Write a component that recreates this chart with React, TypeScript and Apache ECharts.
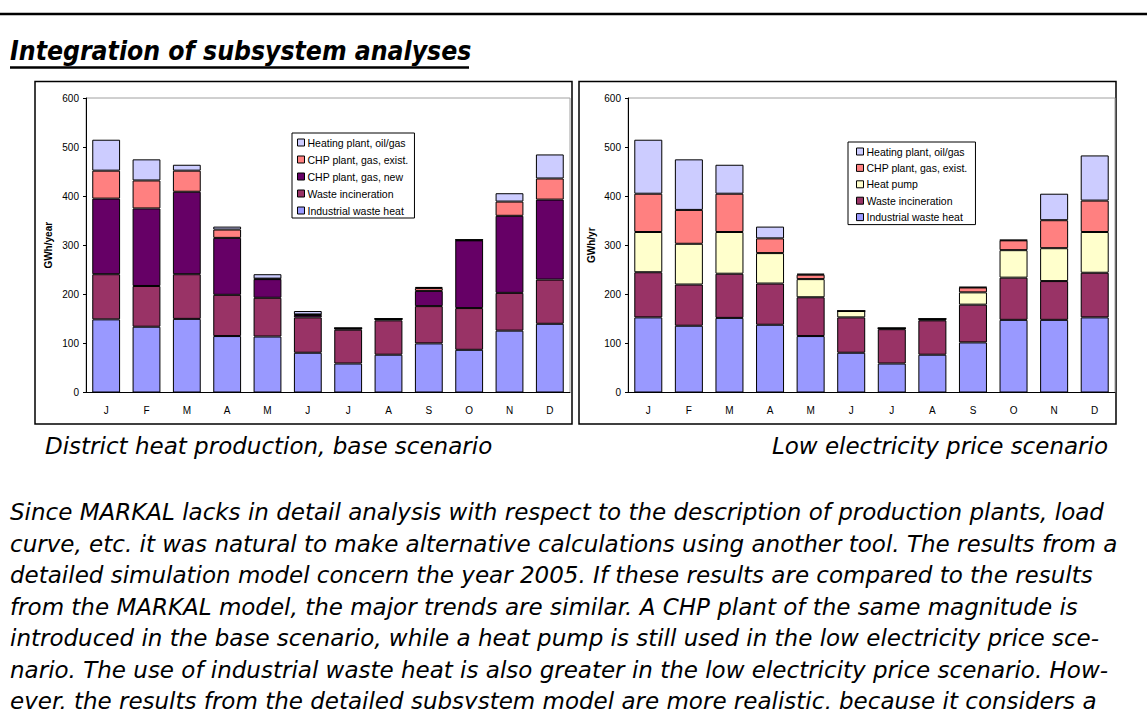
import React, { useEffect, useRef } from "react";
import * as echarts from "echarts";

const months = ["J", "F", "M", "A", "M", "J", "J", "A", "S", "O", "N", "D"];
const yTicks = { min: 0, max: 600, interval: 100 };

// Base scenario (GWh)
const industrialBase = [149, 134, 150, 115, 114, 81, 59, 77, 100, 87, 126, 140];
const wasteBase = [92, 83, 91, 84, 79, 72, 69, 70, 76, 85, 77, 90];
const chpNewBase = [154, 158, 168, 116, 38, 5, 3, 3, 31, 138, 157, 163];
const chpExistBase = [57, 57, 43, 17, 1, 1, 0, 0, 6, 1, 29, 43];
const heatingBase = [63, 43, 12, 6, 9, 7, 0, 0, 2, 0, 17, 49];

// Low electricity price scenario (GWh)
const industrialLow = [153, 136, 152, 138, 115, 81, 59, 77, 102, 148, 148, 153];
const wasteLow = [92, 84, 90, 84, 79, 72, 70, 70, 77, 86, 79, 91];
const heatPumpLow = [82, 83, 85, 62, 37, 13, 2, 2, 25, 56, 67, 83];
const chpExistLow = [78, 69, 78, 30, 9, 0, 0, 1, 10, 20, 57, 64];
const heatingLow = [110, 103, 59, 24, 2, 0, 0, 0, 1, 1, 54, 92];

const names = {
  ind: "Industrial waste heat",
  waste: "Waste incineration",
  chpNew: "CHP plant, gas, new",
  hp: "Heat pump",
  chpExist: "CHP plant, gas, exist.",
  heat: "Heating plant, oil/gas",
};
const colors = {
  ind: "#9999FF",
  waste: "#993366",
  chpNew: "#660066",
  hp: "#FFFFCC",
  chpExist: "#FF8080",
  heat: "#CCCCFF",
};

const title = "Integration of subsystem analyses";
const captionLeft = "District heat production, base scenario";
const captionRight = "Low electricity price scenario";
const paragraph = [
  "Since MARKAL lacks in detail analysis with respect to the description of production plants, load",
  "curve, etc. it was natural to make alternative calculations using another tool. The results from a",
  "detailed simulation model concern the year 2005. If these results are compared to the results",
  "from the MARKAL model, the major trends are similar. A CHP plant of the same magnitude is",
  "introduced in the base scenario, while a heat pump is still used in the low electricity price sce-",
  "nario. The use of industrial waste heat is also greater in the low electricity price scenario. How-",
  "ever, the results from the detailed subsystem model are more realistic, because it considers a",
];

const AX_FONT = "'Liberation Sans', Arial, sans-serif";
const DOC_FONT = "'DejaVu Sans', Verdana, sans-serif";
const TITLE_FONT = "'DejaVu Sans Condensed', 'DejaVu Sans', sans-serif";

function bar(name: string, color: string, data: number[], idx: number, stack: string) {
  return {
    type: "bar",
    name,
    stack,
    xAxisIndex: idx,
    yAxisIndex: idx,
    barWidth: "69%",
    data,
    itemStyle: { color, borderColor: "#000", borderWidth: 1 },
    emphasis: { disabled: true },
  };
}

function xAxis(idx: number) {
  return {
    type: "category",
    gridIndex: idx,
    data: months,
    axisLine: { lineStyle: { color: "#000", width: 1 } },
    axisTick: { inside: true, length: 3, lineStyle: { color: "#000" } },
    axisLabel: { color: "#000", fontSize: 10, fontFamily: AX_FONT, margin: 13, interval: 0 },
    splitLine: { show: false },
  };
}

function yAxis(idx: number, name: string, gap: number) {
  return {
    type: "value",
    gridIndex: idx,
    min: yTicks.min,
    max: yTicks.max,
    interval: yTicks.interval,
    name,
    nameLocation: "middle",
    nameGap: gap,
    nameRotate: 90,
    nameTextStyle: { color: "#000", fontSize: 10, fontWeight: "bold", fontFamily: AX_FONT },
    axisLine: { show: true, lineStyle: { color: "#000", width: 1 } },
    axisTick: { show: true, length: 3, lineStyle: { color: "#000" } },
    axisLabel: { color: "#000", fontSize: 10, fontFamily: AX_FONT, margin: 7 },
    splitLine: { show: false },
  };
}

function legend(left: number, top: number, data: string[], padding: number[], gap: number) {
  return {
    orient: "vertical",
    left,
    top,
    data,
    icon: "rect",
    itemWidth: 7,
    itemHeight: 7,
    itemGap: gap,
    padding,
    borderColor: "#000",
    borderWidth: 1,
    backgroundColor: "#fff",
    itemStyle: { borderColor: "#000", borderWidth: 1 },
    textStyle: { color: "#000", fontSize: 10.5, fontFamily: AX_FONT, lineHeight: 11, padding: [0, 0, 0, -2] },
    selectedMode: false,
  };
}

export default function App() {
  const ref = useRef<HTMLDivElement>(null);
  useEffect(() => {
    if (!ref.current) return;
    const chart = echarts.init(ref.current, null, { renderer: "svg" });
    const graphic: any[] = [
      { type: "line", shape: { x1: 0, y1: 14, x2: 1147, y2: 14 }, style: { stroke: "#000", lineWidth: 2.5 } },
      {
        type: "text",
        x: 10,
        y: 51,
        style: {
          text: title,
          fontFamily: TITLE_FONT,
          fontSize: 26.3,
          fontWeight: "bold",
          fontStyle: "italic",
          fill: "#000",
          textVerticalAlign: "middle",
        },
      },
      { type: "line", shape: { x1: 10, y1: 67.5, x2: 469, y2: 67.5 }, style: { stroke: "#000", lineWidth: 2.5 } },
      { type: "rect", shape: { x: 35, y: 81.5, width: 537, height: 342.5 }, style: { fill: "none", stroke: "#000", lineWidth: 1.5 }, z: -1 },
      { type: "rect", shape: { x: 579, y: 81.5, width: 537, height: 342.5 }, style: { fill: "none", stroke: "#000", lineWidth: 1.5 }, z: -1 },
      {
        type: "text",
        x: 45,
        y: 446,
        style: { text: captionLeft, fontFamily: DOC_FONT, fontSize: 23, fontStyle: "italic", fill: "#000", textVerticalAlign: "middle" },
      },
      {
        type: "text",
        x: 1108,
        y: 446,
        style: { text: captionRight, fontFamily: DOC_FONT, fontSize: 23, fontStyle: "italic", fill: "#000", textAlign: "right", textVerticalAlign: "middle" },
      },
    ];
    paragraph.forEach((line, i) => {
      graphic.push({
        type: "text",
        x: 10,
        y: 512 + i * 31.5,
        style: { text: line, fontFamily: DOC_FONT, fontSize: 23, fontStyle: "italic", fill: "#000", textVerticalAlign: "middle" },
      });
    });

    chart.setOption({
      animation: false,
      backgroundColor: "#fff",
      grid: [
        { left: 86, top: 98, width: 484, height: 294.5, show: true, borderColor: "#a0a0a0", borderWidth: 1, backgroundColor: "transparent" },
        { left: 628, top: 98, width: 487, height: 294.5, show: true, borderColor: "#a0a0a0", borderWidth: 1, backgroundColor: "transparent" },
      ],
      xAxis: [xAxis(0), xAxis(1)],
      yAxis: [yAxis(0, "GWh/year", 33), yAxis(1, "GWh/yr", 32)],
      legend: [
        legend(292, 133, [names.heat, names.chpExist, names.chpNew, names.waste, names.ind], [4, 6, 2, 5], 6),
        legend(848, 142, [names.heat, names.chpExist, names.hp, names.waste, names.ind], [4, 8, 2, 8], 5.4),
      ],
      series: [
        bar(names.ind, colors.ind, industrialBase, 0, "base"),
        bar(names.waste, colors.waste, wasteBase, 0, "base"),
        bar(names.chpNew, colors.chpNew, chpNewBase, 0, "base"),
        bar(names.chpExist, colors.chpExist, chpExistBase, 0, "base"),
        bar(names.heat, colors.heat, heatingBase, 0, "base"),
        bar(names.ind, colors.ind, industrialLow, 1, "low"),
        bar(names.waste, colors.waste, wasteLow, 1, "low"),
        bar(names.hp, colors.hp, heatPumpLow, 1, "low"),
        bar(names.chpExist, colors.chpExist, chpExistLow, 1, "low"),
        bar(names.heat, colors.heat, heatingLow, 1, "low"),
      ],
      graphic,
    });
    return () => chart.dispose();
  }, []);
  return <div ref={ref} style={{ position: "absolute", left: 0, top: 0, width: 1147, height: 709 }} />;
}
